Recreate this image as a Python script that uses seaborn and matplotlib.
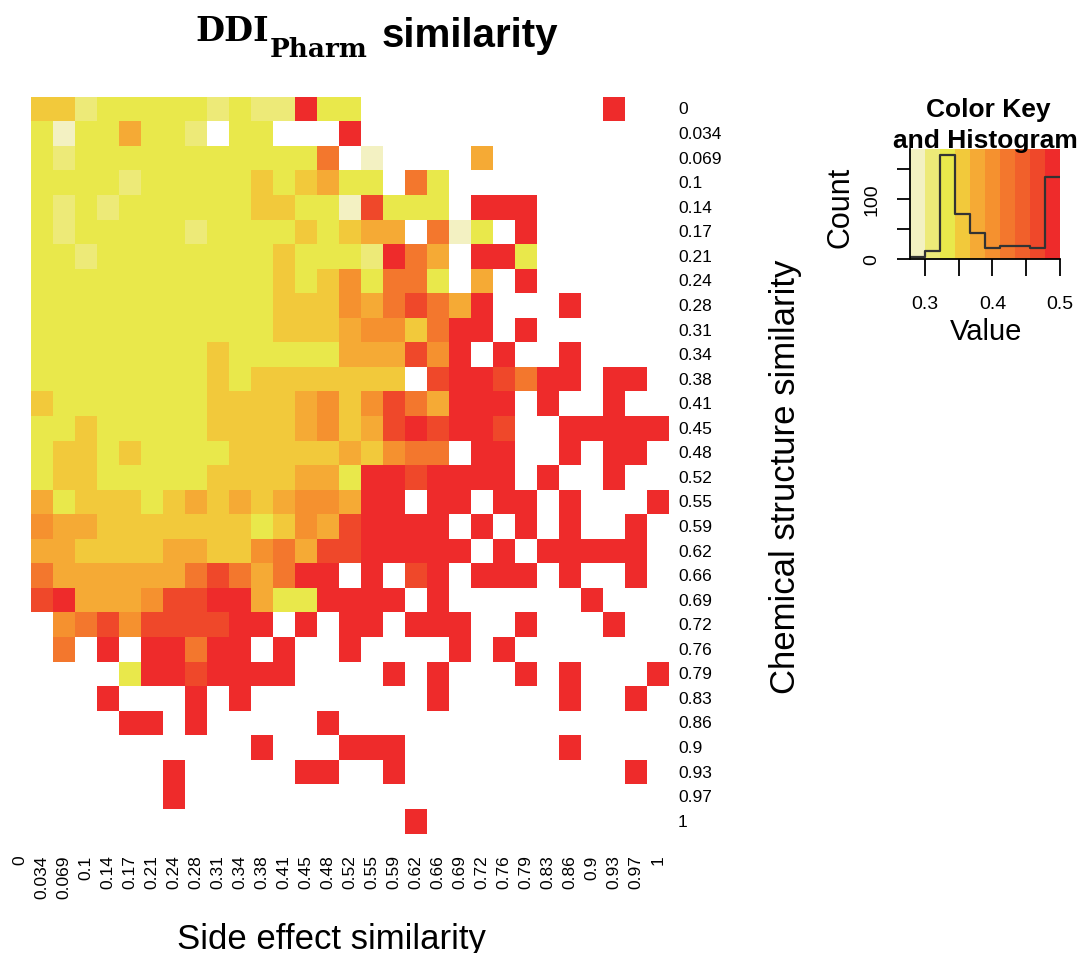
import numpy as np
import pandas as pd
import matplotlib
matplotlib.use("Agg")
import matplotlib.pyplot as plt
from matplotlib.colors import ListedColormap
import seaborn as sns

plt.rcParams['font.family'] = ['Liberation Sans', 'DejaVu Sans']

_ = np.nan

# ---- axis labels (same bins for rows and columns) ----
bin_labels = ["0", "0.034", "0.069", "0.1", "0.14", "0.17", "0.21", "0.24", "0.28", "0.31",
              "0.34", "0.38", "0.41", "0.45", "0.48", "0.52", "0.55", "0.59", "0.62", "0.66",
              "0.69", "0.72", "0.76", "0.79", "0.83", "0.86", "0.9", "0.93", "0.97", "1"]

# ---- DDI_Pharm similarity values (rows: chemical structure, cols: side effect) ----
r0 = [_, .355, .355, .31, .33, .33, .33, .33, .33, .31, .33, .31, .31, .50, .33, .33, _, _, _, _, _, _, _, _, _, _, _, .50, _, _]
r1 = [_, .33, .29, .33, .33, .38, .33, .33, .31, _, .33, .33, _, _, _, .50, _, _, _, _, _, _, _, _, _, _, _, _, _, _]
r2 = [_, .33, .31, .33, .33, .33, .33, .33, .33, .33, .33, .33, .33, .33, .42, _, .29, _, _, _, _, .38, _, _, _, _, _, _, _, _]
r3 = [_, .33, .33, .33, .33, .31, .33, .33, .33, .33, .33, .355, .33, .355, .38, .33, .33, _, .42, .33, _, _, _, _, _, _, _, _, _, _]
r4 = [_, .33, .31, .33, .31, .33, .33, .33, .33, .33, .33, .355, .355, .33, .33, .29, .465, .33, .33, .33, _, .50, .50, .50, _, _, _, _, _, _]
r5 = [_, .33, .31, .33, .33, .33, .33, .33, .31, .33, .33, .33, .33, .355, .33, .355, .38, .38, _, .42, .29, .33, _, .50, _, _, _, _, _, _]
r6 = [_, .33, .33, .31, .33, .33, .33, .33, .33, .33, .33, .33, .355, .33, .33, .33, .31, .50, .42, .38, _, .50, .50, .33, _, _, _, _, _, _]
r7 = [_, .33, .33, .33, .33, .33, .33, .33, .33, .33, .33, .33, .355, .33, .355, .40, .33, .42, .42, .33, _, .38, _, .50, _, _, _, _, _, _]
r8 = [_, .33, .33, .33, .33, .33, .33, .33, .33, .33, .33, .33, .355, .355, .355, .40, .38, .42, .465, .42, .38, .50, _, _, _, .50, _, _, _, _]
r9 = [_, .33, .33, .33, .33, .33, .33, .33, .33, .33, .33, .33, .355, .355, .355, .38, .40, .40, .355, .42, .50, .50, _, .50, _, _, _, _, _, _]
r10 = [_, .33, .33, .33, .33, .33, .33, .33, .33, .355, .33, .33, .33, .33, .33, .38, .38, .38, .465, .40, .50, _, .50, _, _, .50, _, _, _, _]
r11 = [_, .33, .33, .33, .33, .33, .33, .33, .33, .355, .33, .355, .355, .355, .355, .355, .355, .355, _, .465, .50, .50, .465, .42, .50, .50, _, .50, .50, _]
r12 = [_, .355, .33, .33, .33, .33, .33, .33, .33, .355, .355, .355, .355, .38, .40, .355, .40, .465, .42, .38, .50, .50, .50, _, .50, _, _, .50, _, _]
r13 = [_, .33, .33, .355, .33, .33, .33, .33, .33, .355, .355, .355, .355, .38, .40, .355, .38, .465, .50, .465, .50, .50, .465, _, _, .50, .50, .50, .50, .50]
r14 = [_, .33, .355, .355, .33, .355, .33, .33, .33, .33, .355, .355, .355, .355, .355, .38, .355, .40, .42, .42, _, .50, .50, _, _, .50, _, .50, .50, _]
r15 = [_, .33, .355, .355, .33, .33, .33, .33, .33, .355, .355, .355, .355, .38, .38, .33, .50, .50, .465, .50, .50, .50, .50, _, .50, _, _, .50, _, _]
r16 = [_, .38, .33, .355, .355, .355, .33, .355, .38, .355, .38, .355, .38, .40, .40, .38, .50, .50, _, .50, .50, _, .50, .50, _, .50, _, _, _, .50]
r17 = [_, .40, .38, .38, .355, .355, .355, .355, .355, .355, .355, .33, .355, .40, .38, .465, .50, .50, .50, .50, _, .50, _, .50, _, .50, _, _, .50, _]
r18 = [_, .38, .38, .355, .355, .355, .355, .38, .38, .355, .355, .40, .42, .38, .465, .465, .50, .50, .50, .50, .50, _, .50, _, .50, .50, .50, .50, .50, _]
r19 = [_, .42, .38, .38, .38, .38, .38, .38, .42, .465, .42, .38, .42, .50, .50, _, .50, _, .465, .50, _, .50, .50, .50, _, .50, _, _, .50, _]
r20 = [_, .465, .50, .38, .38, .38, .40, .465, .465, .50, .50, .38, .33, .33, .50, .50, .50, .50, _, .50, _, _, _, _, _, _, .50, _, _, _]
r21 = [_, _, .40, .42, .465, .40, .465, .465, .465, .465, .50, .50, _, .50, _, .50, .50, _, .50, .50, .50, _, _, .50, _, _, _, .50, _, _]
r22 = [_, _, .42, _, .50, _, .50, .50, .42, .50, .50, _, .50, _, _, .50, _, _, _, _, .50, _, .50, _, _, _, _, _, _, _]
r23 = [_, _, _, _, _, .33, .50, .50, .465, .50, .50, .50, .50, _, _, _, _, .50, _, .50, _, _, _, .50, _, .50, _, _, _, .50]
r24 = [_, _, _, _, .50, _, _, _, .50, _, .50, _, _, _, _, _, _, _, _, .50, _, _, _, _, _, .50, _, _, .50, _]
r25 = [_, _, _, _, _, .50, .50, _, .50, _, _, _, _, _, .50, _, _, _, _, _, _, _, _, _, _, _, _, _, _, _]
r26 = [_, _, _, _, _, _, _, _, _, _, _, .50, _, _, _, .50, .50, .50, _, _, _, _, _, _, _, .50, _, _, _, _]
r27 = [_, _, _, _, _, _, _, .50, _, _, _, _, _, .50, .50, _, _, .50, _, _, _, _, _, _, _, _, _, _, .50, _]
r28 = [_, _, _, _, _, _, _, .50, _, _, _, _, _, _, _, _, _, _, _, _, _, _, _, _, _, _, _, _, _, _]
r29 = [_, _, _, _, _, _, _, _, _, _, _, _, _, _, _, _, _, _, .50, _, _, _, _, _, _, _, _, _, _, _]

rows = [r0, r1, r2, r3, r4, r5, r6, r7, r8, r9, r10, r11, r12, r13, r14, r15,
        r16, r17, r18, r19, r20, r21, r22, r23, r24, r25, r26, r27, r28, r29]
for i, r in enumerate(rows):
    assert len(r) == 30, (i, len(r))

# ---- colour key / histogram ----
key_breaks = [0.2778, 0.3000, 0.3222, 0.3444, 0.3667, 0.3889, 0.4111, 0.4333, 0.4556, 0.4778, 0.5000]
key_colors = ["#F3F1C2", "#EDEA78", "#E9E84B", "#F2C93B", "#F5AA35",
              "#F5912F", "#F3772D", "#F1602B", "#EF482A", "#EE2B2B"]
hist_counts = [3, 13, 173, 75, 43, 18, 22, 21, 18, 137]

W, H = 1079, 954
def fx(px):
    return px / W
def fy(py):
    return 1 - py / H

fig = plt.figure(figsize=(W / 100, H / 100), dpi=100)
fig.patch.set_facecolor("white")

df = pd.DataFrame(rows, index=bin_labels, columns=bin_labels)
cmap = ListedColormap(key_colors)

ax = fig.add_axes([fx(9), fy(834.5), fx(669) - fx(9), (834.5 - 97.7) / H])
sns.heatmap(df, ax=ax, cmap=cmap, vmin=key_breaks[0], vmax=key_breaks[-1],
            cbar=False, xticklabels=True, yticklabels=True, linewidths=0)
ax.set_xlabel("")
ax.set_ylabel("")
ax.yaxis.tick_right()
ax.tick_params(axis='y', length=0, pad=6.5, labelsize=12.5, labelrotation=0,
               right=True, left=False, labelright=True, labelleft=False)
ax.tick_params(axis='x', length=0, pad=15, labelsize=12.5, labelrotation=90)
for t in ax.get_yticklabels():
    t.set_ha('left')
    t.set_va('center')
for t in ax.get_xticklabels():
    t.set_ha('center')
    t.set_va('top')

fig.text(fx(331), fy(949), "Side effect similarity", ha='center', va='baseline', fontsize=25)
fig.text(fx(785), fy(477), "Chemical structure similarity", rotation=90,
         ha='center', va='center', fontsize=25)

# title
t_sim = fig.text(fx(382), fy(46.7), "similarity", ha='left', va='baseline',
                 fontsize=29, fontweight='bold')
t_ph = fig.text(fx(368), fy(56.7), "Pharm", ha='right', va='baseline',
                fontsize=19, family='DejaVu Serif', fontweight='bold')
fig.canvas.draw()
bb = t_ph.get_window_extent(renderer=fig.canvas.get_renderer())
fig.text(fx(bb.x0 - 1), fy(40.7), "DDI", ha='right', va='baseline',
         fontsize=24, family='DejaVu Serif', fontweight='bold')

# colour key
kax = fig.add_axes([fx(910), fy(260), 150 / W, 110 / H])
for i, c in enumerate(key_colors):
    kax.axvspan(key_breaks[i], key_breaks[i + 1], color=c, lw=0)
kax.step(key_breaks, hist_counts + [hist_counts[-1]], where='post', color='#333333', lw=1.6)
kax.set_xlim(key_breaks[0], key_breaks[-1])
kax.set_ylim(0, 183)
for s in ['top', 'right']:
    kax.spines[s].set_visible(False)
for s in ['left', 'bottom']:
    kax.spines[s].set_color('black')
    kax.spines[s].set_linewidth(1.3)
kax.set_xticks([0.3, 0.35, 0.4, 0.45, 0.5])
kax.set_xticklabels(['0.3', '', '0.4', '', '0.5'])
kax.set_yticks([0, 50, 100, 150])
kax.set_yticklabels(['0', '', '100', ''], rotation=90, va='center')
kax.tick_params(axis='x', length=12, width=1.3, pad=14, labelsize=14)
kax.tick_params(axis='y', length=9.5, width=1.3, pad=12, labelsize=14)

fig.text(fx(840), fy(207), "Count", rotation=90, ha='center', va='center', fontsize=22)
fig.text(fx(986), fy(332), "Value", ha='center', va='center', fontsize=21)
fig.text(fx(988), fy(117), "Color Key", ha='center', va='baseline', fontsize=19, fontweight='bold')
fig.text(fx(985), fy(148), "and Histogram", ha='center', va='baseline', fontsize=19, fontweight='bold')

fig.savefig("out.png", dpi=100, facecolor="white")
